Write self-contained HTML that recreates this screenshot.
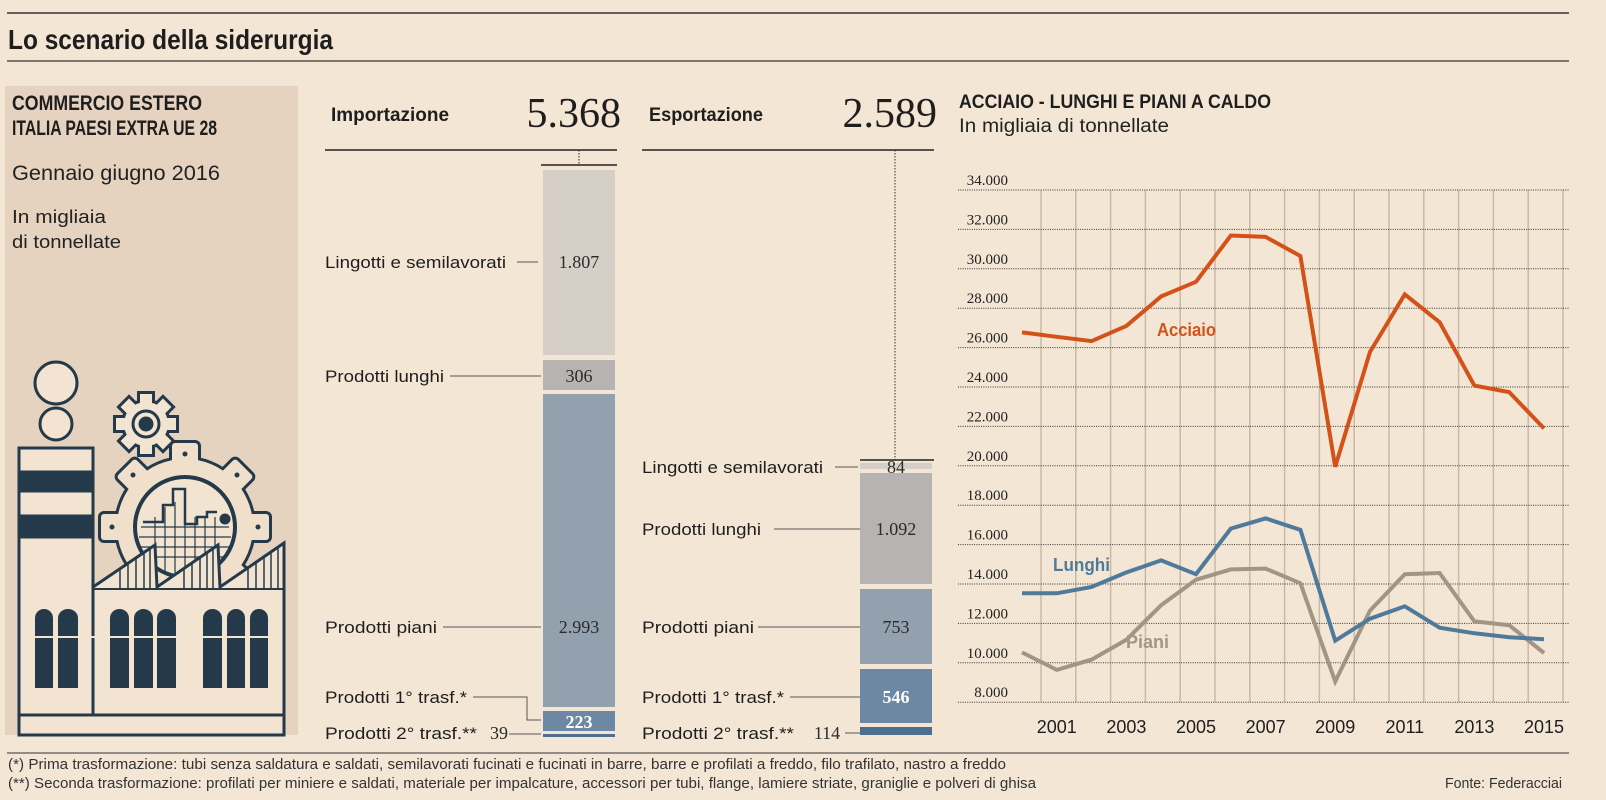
<!DOCTYPE html>
<html><head><meta charset="utf-8"><style>
html,body{margin:0;padding:0;background:#f4e6d5;}
svg{display:block}
.n{font-family:"Liberation Sans Narrow","Liberation Sans",sans-serif;}
.s{font-family:"Liberation Serif",serif;}
</style></head><body>
<svg width="1606" height="800" viewBox="0 0 1606 800" xmlns="http://www.w3.org/2000/svg">
<defs>
  <g id="bgear">
    <rect x="-13" y="-84" width="26" height="30" rx="3"/>
    <rect x="-13" y="-84" width="26" height="30" rx="3" transform="rotate(45)"/>
    <rect x="-13" y="-84" width="26" height="30" rx="3" transform="rotate(90)"/>
    <rect x="-13" y="-84" width="26" height="30" rx="3" transform="rotate(-45)"/>
    <rect x="-13" y="-84" width="26" height="30" rx="3" transform="rotate(-90)"/>
    <rect x="-13" y="-84" width="26" height="30" rx="3" transform="rotate(135)"/>
    <rect x="-13" y="-84" width="26" height="30" rx="3" transform="rotate(-135)"/>
    <circle r="68"/>
  </g>
  <g id="sgear">
    <rect x="-6" y="-30" width="12" height="12"/><rect x="-6" y="-30" width="12" height="12" transform="rotate(45)"/><rect x="-6" y="-30" width="12" height="12" transform="rotate(90)"/><rect x="-6" y="-30" width="12" height="12" transform="rotate(135)"/><rect x="-6" y="-30" width="12" height="12" transform="rotate(180)"/><rect x="-6" y="-30" width="12" height="12" transform="rotate(225)"/><rect x="-6" y="-30" width="12" height="12" transform="rotate(270)"/><rect x="-6" y="-30" width="12" height="12" transform="rotate(315)"/>
    <circle r="22"/>
  </g>
</defs>
<rect width="1606" height="800" fill="#f4e6d5"/>
<line x1="7" y1="13" x2="1569" y2="13" stroke="#333" stroke-width="1.5"/>
<line x1="7" y1="61" x2="1569" y2="61" stroke="#333" stroke-width="1.2"/>
<text class="n" x="8" y="49" font-size="28" font-weight="bold" fill="#1e1e1e" textLength="325" lengthAdjust="spacingAndGlyphs">Lo scenario della siderurgia</text>

<!-- left panel -->
<rect x="5" y="86" width="293" height="649" fill="#e6d3bf"/>
<text class="n" x="12" y="110" font-size="21" font-weight="bold" fill="#1e1e1e" textLength="190" lengthAdjust="spacingAndGlyphs">COMMERCIO ESTERO</text>
<text class="n" x="12" y="135" font-size="21" font-weight="bold" fill="#1e1e1e" textLength="205" lengthAdjust="spacingAndGlyphs">ITALIA PAESI EXTRA UE 28</text>
<text class="n" x="12" y="180" font-size="21" fill="#222" textLength="208" lengthAdjust="spacingAndGlyphs">Gennaio giugno 2016</text>
<text class="n" x="12" y="223" font-size="18" fill="#222" textLength="94" lengthAdjust="spacingAndGlyphs">In migliaia</text>
<text class="n" x="12" y="248" font-size="18" fill="#222" textLength="109" lengthAdjust="spacingAndGlyphs">di tonnellate</text>

<!-- factory -->
<g stroke="#243a4a" stroke-width="3" fill="#f3e4d2">
  <circle cx="56" cy="383" r="21"/>
  <circle cx="56" cy="424" r="16"/>
  <!-- big gear -->
  <g transform="translate(185,527)">
    <use href="#bgear" fill="#243a4a" stroke="#243a4a" stroke-width="6"/>
    <use href="#bgear" fill="#f0dfcb" stroke="none"/>
    <circle r="50" fill="#f3e4d2" stroke-width="4"/>
    <g stroke-width="1.2">
      <line x1="-44" y1="0" x2="44" y2="0"/><line x1="-46" y1="10" x2="46" y2="10"/><line x1="-44" y1="20" x2="44" y2="20"/><line x1="-40" y1="30" x2="40" y2="30"/>
      <line x1="-30" y1="-10" x2="-30" y2="40"/><line x1="-20" y1="-20" x2="-20" y2="44"/><line x1="-10" y1="-25" x2="-10" y2="46"/><line x1="0" y1="-25" x2="0" y2="48"/><line x1="10" y1="-10" x2="10" y2="46"/><line x1="20" y1="-10" x2="20" y2="44"/><line x1="30" y1="-10" x2="30" y2="40"/>
    </g>
    <polyline fill="none" points="-42,-5 -22,-5 -22,-22 -12,-22 -12,-38 0,-38 0,-3 12,-3 12,-10 22,-10 22,-15 32,-15" stroke-width="2.5"/>
    <circle cx="40" cy="-8" r="4" fill="#243a4a"/>
    <g fill="#243a4a" stroke="none"><circle cx="0" cy="-73" r="2.5"/><circle cx="-52" cy="-52" r="2.5"/><circle cx="52" cy="-52" r="2.5"/><circle cx="-73" cy="0" r="2.5"/><circle cx="73" cy="0" r="2.5"/></g>
  </g>
  <!-- small gear -->
  <g transform="translate(146,424)">
    <use href="#sgear" fill="#243a4a" stroke="#243a4a" stroke-width="6"/>
    <use href="#sgear" fill="#f3e4d2" stroke="none"/>
    <circle r="13"/>
    <circle r="6" fill="#243a4a"/>
  </g>
  <!-- chimney -->
  <rect x="19" y="448" width="74" height="287"/>
  <rect x="19" y="472" width="74" height="19" fill="#243a4a"/>
  <rect x="19" y="516" width="74" height="21" fill="#243a4a"/>
  <!-- building -->
  <polygon points="93,587 155,545 157,587 218,545 220,587 284,543 284,715 93,715"/>
  <g stroke-width="1.5">
    <line x1="120" y1="569" x2="120" y2="589"/><line x1="128" y1="563" x2="128" y2="589"/><line x1="136" y1="558" x2="136" y2="589"/><line x1="144" y1="553" x2="144" y2="589"/><line x1="150" y1="549" x2="150" y2="589"/>
    <line x1="184" y1="568" x2="184" y2="589"/><line x1="192" y1="563" x2="192" y2="589"/><line x1="200" y1="557" x2="200" y2="589"/><line x1="207" y1="552" x2="207" y2="589"/><line x1="213" y1="548" x2="213" y2="589"/>
    <line x1="248" y1="566" x2="248" y2="589"/><line x1="256" y1="561" x2="256" y2="589"/><line x1="264" y1="556" x2="264" y2="589"/><line x1="271" y1="551" x2="271" y2="589"/><line x1="278" y1="547" x2="278" y2="589"/>
  </g>
  <line x1="93" y1="589" x2="284" y2="589" stroke-width="2"/>
  <rect x="19" y="715" width="265" height="20"/>
</g>
<g fill="#243a4a">
  <path d="M35,688 V618 a9,9 0 0 1 18,0 V688 Z"/><path d="M58,688 V618 a10,9 0 0 1 20,0 V688 Z"/>
  <path d="M110,688 V618 a9.5,9 0 0 1 19,0 V688 Z"/><path d="M134,688 V618 a9.5,9 0 0 1 19,0 V688 Z"/><path d="M157,688 V618 a9.5,9 0 0 1 19,0 V688 Z"/>
  <path d="M203,688 V618 a9.5,9 0 0 1 19,0 V688 Z"/><path d="M227,688 V618 a9,9 0 0 1 18,0 V688 Z"/><path d="M250,688 V618 a9,9 0 0 1 18,0 V688 Z"/>
</g>
<g stroke="#f3e4d2" stroke-width="2"><line x1="30" y1="637" x2="272" y2="637"/></g>

<!-- Importazione -->
<text class="n" x="331" y="121" font-size="19" font-weight="bold" fill="#1e1e1e" textLength="118" lengthAdjust="spacingAndGlyphs">Importazione</text>
<text class="s" x="621" y="127" font-size="42" fill="#1e1e1e" text-anchor="end">5.368</text>
<line x1="325" y1="150" x2="617" y2="150" stroke="#222" stroke-width="1.5"/>
<line x1="541" y1="165" x2="617" y2="165" stroke="#222" stroke-width="1.5"/>
<line x1="579" y1="150" x2="579" y2="165" stroke="#222" stroke-width="1" stroke-dasharray="1.5 1.5"/>
<rect x="543" y="170" width="72" height="185" fill="#d6cfc8"/>
<rect x="543" y="360" width="72" height="30" fill="#b6b3b2"/>
<rect x="543" y="394" width="72" height="313" fill="#93a0ae"/>
<rect x="543" y="711" width="72" height="20" fill="#6d88a3"/>
<rect x="543" y="734" width="72" height="3" fill="#4c6f90"/>
<g class="s" font-size="18" fill="#2a2a2a" text-anchor="middle">
<text x="579" y="268">1.807</text><text x="579" y="382">306</text><text x="579" y="633">2.993</text>
<text x="579" y="728" fill="#fff" font-weight="bold">223</text>
<text x="499" y="739">39</text>
</g>
<g class="n" font-size="17" fill="#1e1e1e">
<text x="325" y="268" textLength="181" lengthAdjust="spacingAndGlyphs">Lingotti e semilavorati</text>
<text x="325" y="382" textLength="119" lengthAdjust="spacingAndGlyphs">Prodotti lunghi</text>
<text x="325" y="633" textLength="112" lengthAdjust="spacingAndGlyphs">Prodotti piani</text>
<text x="325" y="703" textLength="142" lengthAdjust="spacingAndGlyphs">Prodotti 1° trasf.*</text>
<text x="325" y="739" textLength="152" lengthAdjust="spacingAndGlyphs">Prodotti 2° trasf.**</text>
</g>
<g stroke="#555" stroke-width="1" fill="none">
<line x1="517" y1="262" x2="538" y2="262"/><line x1="450" y1="376" x2="541" y2="376"/><line x1="443" y1="627" x2="541" y2="627"/>
<polyline points="473,697 527,697 527,720 541,720"/><line x1="509" y1="734" x2="541" y2="734"/>
</g>

<!-- Esportazione -->
<text class="n" x="649" y="121" font-size="19" font-weight="bold" fill="#1e1e1e" textLength="114" lengthAdjust="spacingAndGlyphs">Esportazione</text>
<text class="s" x="937" y="127" font-size="42" fill="#1e1e1e" text-anchor="end">2.589</text>
<line x1="642" y1="150" x2="934" y2="150" stroke="#222" stroke-width="1.5"/>
<line x1="895" y1="150" x2="895" y2="460" stroke="#333" stroke-width="1" stroke-dasharray="1.5 1.5"/>
<line x1="860" y1="460" x2="934" y2="460" stroke="#222" stroke-width="1.5"/>
<rect x="860" y="463" width="72" height="6" fill="#d6cfc8"/>
<rect x="860" y="473" width="72" height="111" fill="#b6b3b2"/>
<rect x="860" y="589" width="72" height="75" fill="#93a0ae"/>
<rect x="860" y="669" width="72" height="54" fill="#6d88a3"/>
<rect x="860" y="727" width="72" height="8" fill="#4c6f90"/>
<g class="s" font-size="18" fill="#2a2a2a" text-anchor="middle">
<text x="896" y="473">84</text><text x="896" y="535">1.092</text><text x="896" y="633">753</text>
<text x="896" y="703" fill="#fff" font-weight="bold">546</text>
<text x="827" y="739">114</text>
</g>
<g class="n" font-size="17" fill="#1e1e1e">
<text x="642" y="473" textLength="181" lengthAdjust="spacingAndGlyphs">Lingotti e semilavorati</text>
<text x="642" y="535" textLength="119" lengthAdjust="spacingAndGlyphs">Prodotti lunghi</text>
<text x="642" y="633" textLength="112" lengthAdjust="spacingAndGlyphs">Prodotti piani</text>
<text x="642" y="703" textLength="142" lengthAdjust="spacingAndGlyphs">Prodotti 1° trasf.*</text>
<text x="642" y="739" textLength="152" lengthAdjust="spacingAndGlyphs">Prodotti 2° trasf.**</text>
</g>
<g stroke="#555" stroke-width="1">
<line x1="835" y1="467" x2="858" y2="467"/><line x1="774" y1="529" x2="860" y2="529"/><line x1="758" y1="627" x2="860" y2="627"/><line x1="790" y1="697" x2="860" y2="697"/><line x1="845" y1="733" x2="860" y2="733"/>
</g>

<!-- line chart -->
<text class="n" x="959" y="108" font-size="19" font-weight="bold" fill="#1e1e1e" textLength="312" lengthAdjust="spacingAndGlyphs">ACCIAIO - LUNGHI E PIANI A CALDO</text>
<text class="n" x="959" y="132" font-size="19" fill="#222" textLength="210" lengthAdjust="spacingAndGlyphs">In migliaia di tonnellate</text>
<g stroke="#c9b8a5" stroke-width="1.5">
<line x1="1041" y1="190" x2="1041" y2="702"/><line x1="1075.8" y1="190" x2="1075.8" y2="702"/><line x1="1110.6" y1="190" x2="1110.6" y2="702"/><line x1="1145.4" y1="190" x2="1145.4" y2="702"/><line x1="1180.2" y1="190" x2="1180.2" y2="702"/><line x1="1215" y1="190" x2="1215" y2="702"/><line x1="1249.8" y1="190" x2="1249.8" y2="702"/><line x1="1284.6" y1="190" x2="1284.6" y2="702"/><line x1="1319.4" y1="190" x2="1319.4" y2="702"/><line x1="1354.2" y1="190" x2="1354.2" y2="702"/><line x1="1389" y1="190" x2="1389" y2="702"/><line x1="1423.8" y1="190" x2="1423.8" y2="702"/><line x1="1458.6" y1="190" x2="1458.6" y2="702"/><line x1="1493.4" y1="190" x2="1493.4" y2="702"/><line x1="1528.2" y1="190" x2="1528.2" y2="702"/><line x1="1563" y1="190" x2="1563" y2="702"/>
</g>
<g stroke="#333" stroke-width="1" stroke-dasharray="1 1.3">
<line x1="958" y1="190" x2="1569" y2="190"/><line x1="958" y1="229.4" x2="1569" y2="229.4"/><line x1="958" y1="268.8" x2="1569" y2="268.8"/><line x1="958" y1="308.2" x2="1569" y2="308.2"/><line x1="958" y1="347.6" x2="1569" y2="347.6"/><line x1="958" y1="387" x2="1569" y2="387"/><line x1="958" y1="426.4" x2="1569" y2="426.4"/><line x1="958" y1="465.8" x2="1569" y2="465.8"/><line x1="958" y1="505.2" x2="1569" y2="505.2"/><line x1="958" y1="544.6" x2="1569" y2="544.6"/><line x1="958" y1="584" x2="1569" y2="584"/><line x1="958" y1="623.4" x2="1569" y2="623.4"/><line x1="958" y1="662.8" x2="1569" y2="662.8"/><line x1="958" y1="702.2" x2="1569" y2="702.2"/>
</g>
<g class="s" font-size="15" fill="#222" text-anchor="end">
<text x="1008" y="185">34.000</text><text x="1008" y="224.4">32.000</text><text x="1008" y="263.8">30.000</text><text x="1008" y="303.2">28.000</text><text x="1008" y="342.6">26.000</text><text x="1008" y="382">24.000</text><text x="1008" y="421.4">22.000</text><text x="1008" y="460.8">20.000</text><text x="1008" y="500.2">18.000</text><text x="1008" y="539.6">16.000</text><text x="1008" y="579">14.000</text><text x="1008" y="618.4">12.000</text><text x="1008" y="657.8">10.000</text><text x="1008" y="697.2">8.000</text>
</g>
<g class="n" font-size="18" fill="#1e1e1e" text-anchor="middle">
<text x="1056.8" y="733">2001</text><text x="1126.4" y="733">2003</text><text x="1196" y="733">2005</text><text x="1265.6" y="733">2007</text><text x="1335.2" y="733">2009</text><text x="1404.8" y="733">2011</text><text x="1474.4" y="733">2013</text><text x="1544" y="733">2015</text>
</g>
<g fill="none" stroke-width="4" stroke-linejoin="miter">
<polyline stroke="#a39585" points="1022,652.4 1056.8,669.9 1091.6,659.6 1126.4,639.8 1161.2,605.1 1196,579.7 1230.8,569.4 1265.6,568.6 1300.4,583.2 1335.2,681.5 1370,610.6 1404.8,574.2 1439.6,573 1474.4,621.4 1509.2,625.2 1544,653"/>
<polyline stroke="#4f7a9a" points="1022,593.3 1056.8,593.3 1091.6,587 1126.4,572.4 1161.2,560.4 1196,574.2 1230.8,528.6 1265.6,518.4 1300.4,529.8 1335.2,640.7 1370,618.7 1404.8,606.3 1439.6,627.7 1474.4,633.3 1509.2,637.2 1544,639.2"/>
<polyline stroke="#d2521a" points="1022,332.4 1056.8,336.8 1091.6,341.1 1126.4,325.9 1161.2,296.4 1196,281.8 1230.8,235.5 1265.6,236.9 1300.4,256 1335.2,466.8 1370,351.9 1404.8,294.4 1439.6,322.2 1474.4,385.6 1509.2,392.1 1544,428.4"/>
</g>
<g class="n" font-size="18" font-weight="bold">
<text x="1157" y="336" fill="#d2521a" textLength="59" lengthAdjust="spacingAndGlyphs">Acciaio</text>
<text x="1053" y="571" fill="#4f7a9a" textLength="57" lengthAdjust="spacingAndGlyphs">Lunghi</text>
<text x="1126" y="648" fill="#a39585" textLength="43" lengthAdjust="spacingAndGlyphs">Piani</text>
</g>

<!-- footer -->
<line x1="7" y1="753" x2="1569" y2="753" stroke="#333" stroke-width="1"/>
<g class="n" font-size="15" fill="#333">
<text x="8" y="769" textLength="998" lengthAdjust="spacingAndGlyphs">(*) Prima trasformazione: tubi senza saldatura e saldati, semilavorati fucinati e fucinati in barre, barre e profilati a freddo, filo trafilato, nastro a freddo</text>
<text x="8" y="788" textLength="1028" lengthAdjust="spacingAndGlyphs">(**) Seconda trasformazione: profilati per miniere e saldati, materiale per impalcature, accessori per tubi, flange, lamiere striate, graniglie e polveri di ghisa</text>
<text x="1445" y="788" textLength="117" lengthAdjust="spacingAndGlyphs">Fonte: Federacciai</text>
</g>
</svg>
</body></html>
